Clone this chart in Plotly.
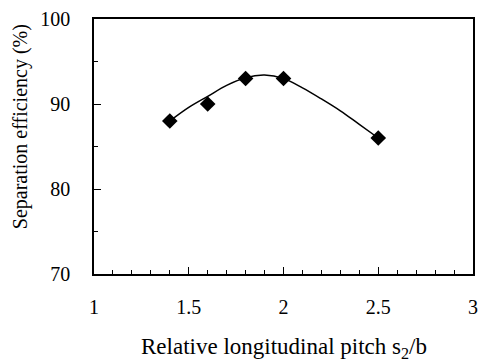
import plotly.graph_objects as go

# measured data points
pitch = [1.4, 1.6, 1.8, 2.0, 2.5]
efficiency = [88, 90, 93, 93, 86]

# trend curve
curve_x = [1.4, 1.5, 1.6, 1.7, 1.8, 1.9, 2.0, 2.1, 2.2, 2.3, 2.4, 2.5]
curve_y = [88.0, 89.6, 90.9, 92.2, 93.1, 93.4, 93.0, 91.9, 90.6, 89.2, 87.6, 86.0]

x_ticks = [1, 1.5, 2, 2.5, 3]
x_tick_labels = ["1", "1.5", "2", "2.5", "3"]
y_ticks = [70, 80, 90, 100]

font_family = "Liberation Serif, Times New Roman, serif"

fig = go.Figure()
fig.add_trace(go.Scatter(x=curve_x, y=curve_y, mode="lines",
                         line=dict(color="black", width=1.5, shape="spline"),
                         hoverinfo="skip", showlegend=False))
fig.add_trace(go.Scatter(x=pitch, y=efficiency, mode="markers",
                         marker=dict(symbol="diamond", size=12, color="black"),
                         showlegend=False))

fig.update_layout(
    width=478, height=362,
    margin=dict(l=94, r=5, t=19, b=88, autoexpand=False),
    paper_bgcolor="white", plot_bgcolor="white",
    font=dict(family=font_family, size=20, color="black"),
    xaxis=dict(range=[1, 3], tickvals=x_ticks, ticktext=x_tick_labels,
               ticks="inside", ticklen=7, tickcolor="black", tickwidth=1,
               minor=dict(dtick=0.1, ticks="inside", ticklen=4, tickcolor="black"),
               showline=True, linecolor="black", linewidth=1.5, mirror=True,
               showgrid=False, zeroline=False, ticklabelstandoff=14),
    yaxis=dict(range=[70, 100], tickvals=y_ticks,
               ticks="inside", ticklen=7, tickcolor="black", tickwidth=1,
               minor=dict(dtick=5, ticks="inside", ticklen=4, tickcolor="black"),
               showline=True, linecolor="black", linewidth=1.5, mirror=True,
               showgrid=False, zeroline=False, ticklabelstandoff=18),
    annotations=[
        dict(text="Relative longitudinal pitch s<sub>2</sub>/b", xref="paper", yref="paper",
             x=0.5, y=-0.29, xanchor="center", yanchor="middle", showarrow=False,
             font=dict(family=font_family, size=23)),
        dict(text="Separation efficiency (%)", xref="paper", yref="paper",
             x=-0.195, y=0.576, xanchor="center", yanchor="middle", showarrow=False,
             textangle=-90, font=dict(family=font_family, size=20)),
    ],
)

fig.write_html("out.html")
